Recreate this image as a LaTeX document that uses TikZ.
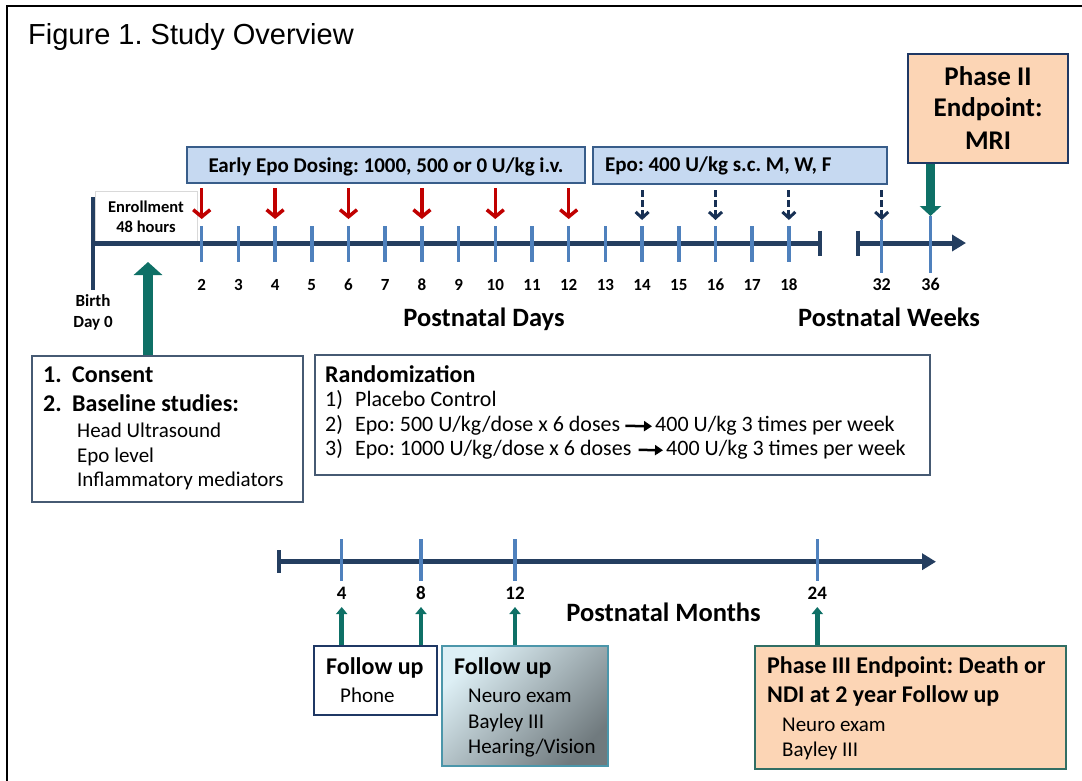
\documentclass[tikz,border=0pt]{standalone}
\usepackage{fontspec}
\setmainfont{Carlito}
\newfontfamily\arialfont{Liberation Sans}
\usetikzlibrary{arrows.meta,calc}
\definecolor{navy}{RGB}{36,62,96}
\definecolor{tickblue}{RGB}{79,129,189}
\definecolor{dred}{RGB}{192,0,0}
\definecolor{tealx}{RGB}{14,112,102}
\definecolor{lblue}{RGB}{198,217,241}
\definecolor{lblueb}{RGB}{56,93,138}
\definecolor{peach}{RGB}{252,213,181}
\definecolor{boxb}{RGB}{70,90,115}
\definecolor{darknavy}{RGB}{31,56,100}
\definecolor{fubord}{RGB}{75,150,170}
\definecolor{ph3bord}{RGB}{49,110,100}
\definecolor{dashnavy}{RGB}{23,48,84}
\newcommand{\fsz}[1]{\fontsize{#1}{#1}\selectfont}
\frenchspacing
\begin{document}
\begin{tikzpicture}[x=1pt,y=-1pt,
  boxnode/.style={rectangle,inner sep=0pt,line width=1.5pt},
  lbl/.style={inner sep=0pt,anchor=base},
  lblw/.style={inner sep=0pt,anchor=base west},
  axisline/.style={draw=navy,line width=5pt},
  endbar/.style={draw=navy,line width=4pt},
  tickline/.style={draw=tickblue,line width=3.5pt},
  redarrow/.style={draw=dred,line width=3.5pt,-{Straight Barb[length=7pt,width=17pt]}},
  dasharrow/.style={draw=dashnavy,line width=3pt,dash pattern=on 7pt off 3pt,-{Straight Barb[length=6pt,width=13pt]}},
  tealbig/.style={draw=tealx,line width=10.5pt,-{Triangle[length=13pt,width=28pt]}},
  tealmid/.style={draw=tealx,line width=8.5pt,-{Triangle[length=10pt,width=21pt]}},
  tealsmall/.style={draw=tealx,line width=4.5pt,-{Triangle[length=7pt,width=11pt]}},
  blackarrow/.style={draw=black,line width=2.5pt,-{Triangle[length=8pt,width=10pt]}},
  axisarrow/.style={draw=navy,line width=5pt,-{Triangle[length=14pt,width=16pt]}}
]
\useasboundingbox (0,0) rectangle (1082,780);
\fill[white] (0,0) rectangle (1082,780);
% frame
\draw[line width=2pt] (7,782) -- (7,6) -- (1084,6);

% title
\node[lblw] (title) at (28,44.3) {\arialfont\fsz{29}Figure 1. Study Overview};

% top boxes
\node[boxnode,draw=lblueb,fill=lblue,minimum width=398pt,minimum height=36pt] (early) at (386,165) {};
\node[lbl] (earlyt) at (386,172.7) {\bfseries\fsz{21}Early Epo Dosing: 1000, 500 or 0 U/kg i.v.};
\node[boxnode,draw=lblueb,fill=lblue,minimum width=294pt,minimum height=37pt] (sc) at (740,165.5) {};
\node[lblw] (sct) at (605,171.7) {\bfseries\fsz{21}Epo: 400 U/kg s.c. M, W, F};
\node[boxnode,draw=darknavy,fill=peach,minimum width=160pt,minimum height=109pt] (ph2) at (988,108.5) {};
\node[lbl] (ph2a) at (988,85) {\bfseries\fsz{27}Phase II};
\node[lbl] (ph2b) at (988,116.7) {\bfseries\fsz{27}Endpoint:};
\node[lbl] (ph2c) at (988,149.3) {\bfseries\fsz{27}MRI};

% enrollment box
\node[boxnode,draw=black!15,line width=1pt,fill=white,minimum width=102pt,minimum height=52pt] (enr) at (146,217) {};
\node[lbl] (enra) at (146,212.3) {\bfseries\fsz{16.5}Enrollment};
\node[lbl] (enrb) at (146,232.3) {\bfseries\fsz{16.5}48 hours};

% day axis
\coordinate (birthtop) at (93,197);
\coordinate (birthbot) at (93,290);
\coordinate (daystart) at (93,243);
\coordinate (dayend) at (820,243);
\draw[endbar] (birthtop) -- (birthbot);
\draw[axisline] (daystart) -- (dayend);
\draw[endbar] ($(dayend)+(0,-12.5)$) -- ($(dayend)+(0,12.5)$);
\node[lbl] (birth) at (93,306) {\bfseries\fsz{17}Birth};
\node[lbl] (day0) at (93,327.7) {\bfseries\fsz{17}Day 0};

\foreach \d in {2,...,18}{
  \coordinate (t\d) at ({201.7+(\d-2)*36.7},243);
  \draw[tickline] ($(t\d)+(0,-17)$) -- ($(t\d)+(0,19)$);
  \node[lbl] (l\d) at ($(t\d)+(0,47)$) {\bfseries\fsz{17}\d};
}
\foreach \d in {2,4,...,12}{
  \draw[redarrow] ($(t\d)+(0,-55)$) -- ($(t\d)+(0,-24)$);
}
\foreach \d in {14,16,18}{
  \draw[dasharrow] ($(t\d)+(0,-53)$) -- ($(t\d)+(0,-23)$);
}

% week axis
\coordinate (wkstart) at (857.7,243);
\coordinate (wkend) at (966,243);
\draw[axisarrow] (wkstart) -- (wkend);
\draw[endbar] ($(wkstart)+(0,-12.5)$) -- ($(wkstart)+(0,12.5)$);
\coordinate (w32) at (881.7,243);
\coordinate (w36) at (930.5,243);
\draw[tickline] ($(w32)+(0,-23)$) -- ($(w32)+(0,29.7)$);
\draw[tickline] ($(w36)+(0,-27)$) -- ($(w36)+(0,29.7)$);
\node[lbl] (lw32) at ($(w32)+(0,47)$) {\bfseries\fsz{18}32};
\node[lbl] (lw36) at ($(w36)+(0,47)$) {\bfseries\fsz{18}36};
\draw[dasharrow] ($(w32)+(0,-53)$) -- ($(w32)+(0,-23)$);
\draw[tealmid] (ph2.south -| w36) -- ($(w36)+(0,-27)$);

\node[lbl] (pdays) at (484,326.7) {\bfseries\fsz{26.5}Postnatal Days};
\node[lbl] (pweeks) at (889,326.7) {\bfseries\fsz{26.5}Postnatal Weeks};

% consent box
\node[boxnode,draw=boxb,fill=white,minimum width=271pt,minimum height=146pt] (consent) at (167.5,429) {};
\node[lblw] (c1) at (43,382.7) {\bfseries\fsz{24}\makebox[29pt][l]{1.}Consent};
\node[lblw] (c2) at (43,411.7) {\bfseries\fsz{24}\makebox[29pt][l]{2.}Baseline studies:};
\node[lblw] (c3) at (77,437) {\fsz{21}Head Ultrasound};
\node[lblw] (c4) at (77,462.3) {\fsz{21}Epo level};
\node[lblw] (c5) at (77,486.7) {\fsz{21}Inflammatory mediators};
\coordinate (enrx) at (148,0);
\draw[tealbig] (consent.north -| enrx) -- ($(daystart -| enrx)+(0,19)$);

% randomization box
\node[boxnode,draw=boxb,fill=white,minimum width=615pt,minimum height=120pt] (rand) at (622.5,415) {};
\node[lblw] (r0) at (325,382.3) {\bfseries\fsz{24}Randomization};
\node[lblw] (r1) at (325,406.7) {\fsz{22}\makebox[30pt][l]{1)}Placebo Control};
\node[lblw] (r2) at (325,431) {\fsz{22}\makebox[30pt][l]{2)}Epo: 500 U/kg/dose x 6 doses};
\node[lblw] (r3) at (325,455) {\fsz{22}\makebox[30pt][l]{3)}Epo: 1000 U/kg/dose x 6 doses};
\node[lblw] (r2b) at (655,431) {\fsz{22}400 U/kg 3 times per week};
\node[lblw] (r3b) at (666,455) {\fsz{22}400 U/kg 3 times per week};
\draw[blackarrow] ($(r2.east)+(5,1)$) -- ($(r2b.west)+(-3,1)$);
\draw[blackarrow] ($(r3.east)+(7,1)$) -- ($(r3b.west)+(-3,1)$);

% months axis
\coordinate (mstart) at (279,561.7);
\coordinate (mend) at (936,561.7);
\draw[axisarrow] (mstart) -- (mend);
\draw[endbar] ($(mstart)+(0,-11.5)$) -- ($(mstart)+(0,11.5)$);
\foreach \m/\x in {4/341.7,8/421,12/515,24/817.3}{
  \coordinate (m\m) at (\x,561.7);
  \draw[tickline] ($(m\m)+(0,-22.7)$) -- ($(m\m)+(0,19.3)$);
  \node[lbl] (lm\m) at ($(m\m)+(0,37.3)$) {\bfseries\fsz{19}\m};
}
\node[lbl] (pmonths) at (663.5,621.7) {\bfseries\fsz{26.5}Postnatal Months};

% follow-up boxes
\node[boxnode,draw=darknavy,fill=white,minimum width=123pt,minimum height=69pt] (fu1) at (375.5,680.5) {};
\node[lblw] (fu1a) at (326,674) {\bfseries\fsz{24}Follow up};
\node[lblw] (fu1b) at (340,702.3) {\fsz{21}Phone};
\node[boxnode,draw=fubord,shading=axis,top color={rgb,255:red,221;green,239;blue,245},middle color={rgb,255:red,178;green,197;blue,203},bottom color={rgb,255:red,112;green,122;blue,126},shading angle=45,minimum width=166pt,minimum height=120pt] (fu2) at (525,706) {};
\node[lblw] (fu2a) at (454,674) {\bfseries\fsz{24}Follow up};
\node[lblw] (fu2b) at (468,702.3) {\fsz{21}Neuro exam};
\node[lblw] (fu2c) at (468,728.3) {\fsz{21}Bayley III};
\node[lblw] (fu2d) at (468,753.3) {\fsz{21}Hearing/Vision};
\node[boxnode,draw=ph3bord,fill=peach,minimum width=311pt,minimum height=123pt] (ph3) at (910.5,707.5) {};
\node[lblw] (ph3a) at (767,673.3) {\bfseries\fsz{24}Phase III Endpoint: Death or};
\node[lblw] (ph3b) at (767,702.7) {\bfseries\fsz{24}NDI at 2 year Follow up};
\node[lblw] (ph3c) at (782,731.7) {\fsz{21}Neuro exam};
\node[lblw] (ph3d) at (782,756.7) {\fsz{21}Bayley III};

\draw[tealsmall] (fu1.north -| m4) -- ($(m4)+(0,45.3)$);
\draw[tealsmall] (fu1.north -| m8) -- ($(m8)+(0,45.3)$);
\draw[tealsmall] (fu2.north -| m12) -- ($(m12)+(0,45.3)$);
\draw[tealsmall] (ph3.north -| m24) -- ($(m24)+(0,45.3)$);
\end{tikzpicture}
\end{document}
